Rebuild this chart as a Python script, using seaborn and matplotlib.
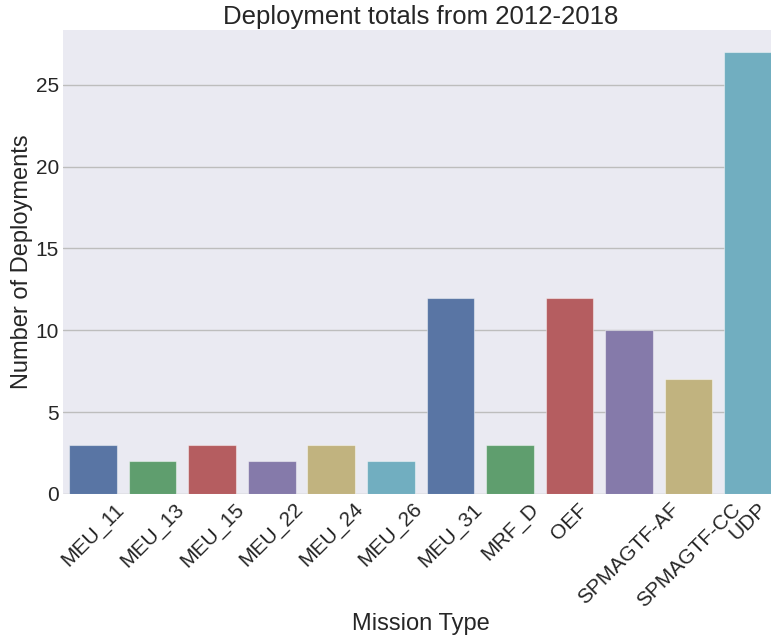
import matplotlib
matplotlib.use("Agg")
import pandas as pd
import matplotlib.pyplot as plt
import seaborn as sns

missions = ["MEU_11", "MEU_13", "MEU_15", "MEU_22", "MEU_24", "MEU_26",
            "MEU_31", "MRF_D", "OEF", "SPMAGTF-AF", "SPMAGTF-CC", "UDP"]
deployments = [3, 2, 3, 2, 3, 2, 12, 3, 12, 10, 7, 27]

# old seaborn "deep" palette (6 colours), cycled
deep6 = ["#4C72B0", "#55A868", "#C44E52", "#8172B2", "#CCB974", "#64B5CD"]
colors = [deep6[i % 6] for i in range(len(missions))]

sns.set_style("darkgrid", {"axes.facecolor": "#EAEAF2"})
plt.rcParams['font.family'] = ['Liberation Sans', 'DejaVu Sans']

df = pd.DataFrame({"Mission Type": missions, "Number of Deployments": deployments})

fig = plt.figure(figsize=(7.71, 6.39), dpi=100)
ax = fig.add_axes([0.082, 0.227, 0.927, 0.726])

sns.barplot(data=df, x="Mission Type", y="Number of Deployments",
            hue="Mission Type", palette=colors, legend=False,
            edgecolor=(1, 1, 1, 0.45), linewidth=0.8, ax=ax)

ax.grid(False)
ax.yaxis.grid(True, color="#bdbdbd", linewidth=1.0)
ax.set_axisbelow(True)
for s in ax.spines.values():
    s.set_visible(False)
ax.tick_params(axis="y", length=0, labelsize=15, pad=3)
ax.tick_params(axis="x", length=0, labelsize=15, pad=4)
plt.setp(ax.get_xticklabels(), rotation=45)
ax.set_ylim(0, 28.35)
ax.set_xlabel("Mission Type", fontsize=17, labelpad=2)
ax.set_ylabel("Number of Deployments", fontsize=17, labelpad=2)
ax.set_title("Deployment totals from 2012-2018", fontsize=18.5, pad=4)

fig.savefig("out.png", dpi=100)
